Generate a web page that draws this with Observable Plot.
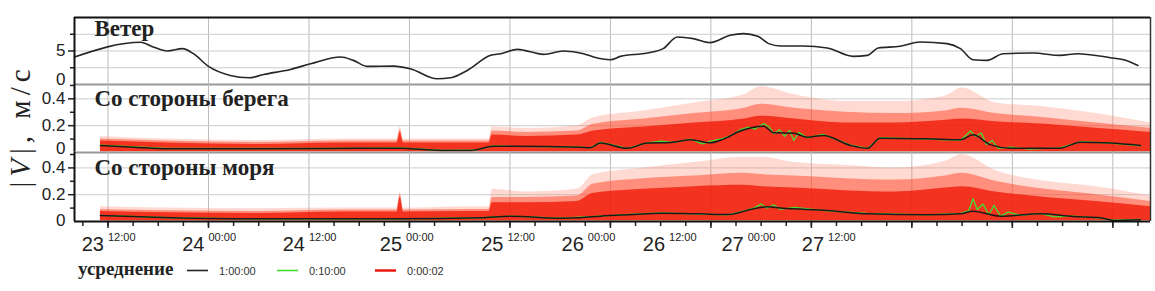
<!DOCTYPE html>
<html><head><meta charset="utf-8">
<script src="https://cdn.jsdelivr.net/npm/d3@7"></script>
<script src="https://cdn.jsdelivr.net/npm/@observablehq/plot@0.6"></script>
<style>
html,body{margin:0;padding:0;background:#fff;}
#chart{position:relative;width:1155px;height:291px;overflow:hidden;}
#chart > svg{position:absolute;left:0;display:block;overflow:visible;}
</style></head><body><div id="chart"></div>
<script>
// time axis: hours since 23 00:00
const timeDomain = [8, 136.5];
const majorTicks = [12, 24, 36, 48, 60, 72, 84, 96, 108, 120, 132];
const minorTicks = d3.range(9, 136, 3);
// tick labels as printed in the reference (hour where each label is printed)
const tickHours = [12, 24, 36, 47.6, 59.7, 69.3, 79, 88.4, 98];
const tickDays  = ["23", "24", "24", "25", "25", "26", "26", "27", "27"];
const tickTimes = ["12:00", "00:00", "12:00", "00:00", "12:00", "00:00", "12:00", "00:00", "12:00"];

// panel 1: wind speed, m/s
const windHours = [8.0, 15.9, 17.4, 19.1, 20.9, 22.2, 24.0, 26.6, 28.8, 30.6, 33.8, 36.2, 39.8, 41.3, 43.0, 46.1, 48.1, 51.3, 52.9, 54.9, 57.7, 58.9, 60.9, 64.0, 66.4, 68.8, 70.0, 72.0, 73.2, 76.4, 78.3, 80.0, 81.9, 83.9, 86.3, 87.9, 89.6, 90.9, 92.3, 95.0, 97.9, 101.0, 102.7, 104.0, 106.6, 109.0, 112.2, 113.8, 115.3, 117.0, 118.9, 122.5, 125.7, 127.8, 131.7, 133.3, 135.0];
const windSpeed = [4.1, 6.3, 5.6, 5.0, 5.35, 4.6, 2.7, 1.35, 1.0, 1.5, 2.25, 3.1, 4.1, 3.6, 2.7, 2.75, 2.35, 0.85, 1.0, 2.1, 4.35, 4.6, 5.25, 4.5, 5.0, 4.6, 4.1, 3.7, 4.2, 4.7, 5.35, 7.1, 6.85, 6.25, 7.35, 7.6, 7.2, 6.1, 5.75, 5.75, 5.45, 4.2, 4.35, 5.45, 5.7, 6.35, 6.1, 5.35, 3.7, 3.6, 4.6, 4.7, 4.35, 4.6, 4.0, 3.7, 2.85];

// 2-second samples: envelope of the cloud (dense core top, mid density top, sparse outer top)
const bandHours     = [11.1, 19, 30, 40, 46.5, 46.9, 47.3, 55, 57.5, 57.9, 62, 68, 70, 76, 82, 88, 90, 94, 100, 106, 112, 114, 118, 124, 130, 136.5];
const shoreCoreTop  = [0.085, 0.07, 0.06, 0.07, 0.07, 0.15, 0.07, 0.07, 0.07, 0.13, 0.12, 0.13, 0.16, 0.19, 0.22, 0.25, 0.27, 0.25, 0.22, 0.22, 0.24, 0.25, 0.23, 0.21, 0.18, 0.15];
const shoreMidTop   = [0.10, 0.085, 0.075, 0.085, 0.085, 0.17, 0.085, 0.085, 0.085, 0.16, 0.15, 0.16, 0.21, 0.25, 0.29, 0.33, 0.36, 0.33, 0.30, 0.29, 0.31, 0.33, 0.29, 0.26, 0.22, 0.18];
const shoreOuterTop = [0.12, 0.10, 0.09, 0.10, 0.10, 0.19, 0.10, 0.10, 0.10, 0.19, 0.18, 0.20, 0.26, 0.31, 0.37, 0.43, 0.49, 0.43, 0.38, 0.38, 0.42, 0.48, 0.37, 0.34, 0.29, 0.22];
const seaCoreTop    = [0.075, 0.065, 0.06, 0.07, 0.07, 0.18, 0.07, 0.075, 0.075, 0.14, 0.14, 0.15, 0.21, 0.24, 0.26, 0.27, 0.26, 0.25, 0.23, 0.22, 0.25, 0.26, 0.22, 0.18, 0.15, 0.11];
const seaMidTop     = [0.09, 0.08, 0.075, 0.085, 0.085, 0.20, 0.085, 0.09, 0.09, 0.18, 0.18, 0.19, 0.28, 0.32, 0.34, 0.36, 0.35, 0.34, 0.32, 0.31, 0.34, 0.36, 0.30, 0.24, 0.20, 0.15];
const seaOuterTop   = [0.11, 0.10, 0.095, 0.10, 0.10, 0.22, 0.10, 0.11, 0.11, 0.24, 0.22, 0.24, 0.35, 0.40, 0.44, 0.48, 0.48, 0.44, 0.42, 0.40, 0.45, 0.50, 0.38, 0.30, 0.26, 0.19];

// 1-hour averages
const shoreHourlyH = [11.1, 15.0, 19.1, 29.0, 38.6, 46.9, 51.7, 55.3, 56.1, 58.0, 60.4, 68.4, 69.6, 70.8, 74.0, 76.4, 79.5, 81.6, 83.9, 85.5, 87.5, 90.3, 91.5, 93.9, 95.5, 97.4, 100.7, 102.7, 104.2, 109.9, 113.8, 115.3, 117.4, 119.8, 125.7, 128.1, 131.7, 135.3];
const shoreHourly  = [0.052, 0.04, 0.028, 0.028, 0.03, 0.032, 0.015, 0.015, 0.022, 0.047, 0.047, 0.04, 0.035, 0.07, 0.032, 0.07, 0.077, 0.095, 0.072, 0.1, 0.16, 0.196, 0.147, 0.144, 0.114, 0.127, 0.052, 0.032, 0.107, 0.102, 0.095, 0.132, 0.057, 0.032, 0.032, 0.077, 0.07, 0.052];
const seaHourlyH = [11.1, 19.5, 29.0, 46.9, 56.5, 60.1, 66.0, 68.4, 70.8, 74.7, 78.0, 82.7, 86.0, 89.1, 90.7, 92.3, 97.9, 102.7, 109.9, 113.8, 115.3, 118.6, 123.3, 127.3, 130.5, 132.1, 135.3];
const seaHourly  = [0.045, 0.028, 0.02, 0.02, 0.028, 0.04, 0.025, 0.028, 0.04, 0.052, 0.062, 0.057, 0.052, 0.095, 0.11, 0.1, 0.082, 0.057, 0.05, 0.057, 0.077, 0.04, 0.057, 0.037, 0.028, 0.008, 0.013];

// 10-minute averages
const shoreTenMinH = [11.1, 19, 29, 39, 47, 52, 56, 58, 60.4, 68.4, 69.6, 70.8, 72, 74, 76.4, 78, 79.5, 81.6, 83, 84, 85.5, 86.5, 87.5, 88.5, 89.3, 90.3, 91, 91.5, 92.2, 92.8, 93.4, 93.9, 94.5, 95.5, 97.4, 100.7, 102.7, 104.2, 109.9, 113.8, 115, 115.6, 116.3, 116.9, 117.6, 118.3, 119.8, 122, 125.7, 128.1, 131.7, 135.3];
const shoreTenMin  = [0.055, 0.03, 0.03, 0.03, 0.035, 0.015, 0.02, 0.05, 0.045, 0.04, 0.035, 0.075, 0.06, 0.03, 0.072, 0.085, 0.075, 0.1, 0.065, 0.085, 0.105, 0.13, 0.17, 0.19, 0.175, 0.215, 0.19, 0.14, 0.17, 0.12, 0.165, 0.09, 0.15, 0.11, 0.135, 0.055, 0.03, 0.11, 0.1, 0.09, 0.16, 0.12, 0.145, 0.06, 0.09, 0.03, 0.04, 0.025, 0.035, 0.08, 0.07, 0.05];
const seaTenMinH = [11.1, 19.5, 29, 46.9, 56.5, 60.1, 66, 70.8, 74.7, 78, 82.7, 86, 88, 89.1, 90, 90.7, 91.5, 92.3, 94, 97.9, 102.7, 109.9, 113.8, 114.8, 115.3, 115.8, 116.5, 117.2, 117.8, 118.6, 119.5, 121, 123.3, 125, 127.3, 130.5, 132.1, 135.3];
const seaTenMin  = [0.045, 0.028, 0.02, 0.02, 0.028, 0.04, 0.025, 0.04, 0.055, 0.065, 0.055, 0.05, 0.08, 0.1, 0.13, 0.1, 0.125, 0.09, 0.105, 0.08, 0.06, 0.05, 0.06, 0.08, 0.17, 0.09, 0.13, 0.05, 0.12, 0.04, 0.07, 0.045, 0.06, 0.035, 0.04, 0.025, 0.01, 0.015];

const panelTitles = ["Ветер", "Со стороны берега", "Со стороны моря"];
const legendTitle = "усреднение";
const legendLabels = ["1:00:00", "0:10:00", "0:00:02"];
const legendColors = ["#222222", "#44dd33", "#e8180c"];
const yAxisLabel = ["|", "V", "|, м/с"];

// ---------- build tables ----------
const zip = (hs, vs) => hs.map((h, i) => ({h, v: vs[i]}));
const wind = zip(windHours, windSpeed);
const shoreBand = bandHours.map((h, i) => ({h, core: shoreCoreTop[i], mid: shoreMidTop[i], outer: shoreOuterTop[i]}));
const seaBand = bandHours.map((h, i) => ({h, core: seaCoreTop[i], mid: seaMidTop[i], outer: seaOuterTop[i]}));
const xTicks = tickHours.map((h, i) => ({h, day: tickDays[i], time: tickTimes[i]}));

const W = 1155, ML = 74, MR = 5;
const SANS = "Liberation Sans, Arial, sans-serif";
const SERIF = "Liberation Serif, Times New Roman, serif";
const style = {fontFamily: SANS, background: "transparent", overflow: "visible", color: "#222"};
const xOpt = {domain: timeDomain, axis: null};
const chart = document.getElementById("chart");

function place(svg, top) { svg.style.top = top + "px"; chart.appendChild(svg); }

function title(t, dy) {
  return Plot.text([t], {frameAnchor: "top-left", dx: 20, dy, textAnchor: "start", lineAnchor: "middle",
    fontFamily: SERIF, fontWeight: "bold", fontSize: 23, fill: "#222"});
}

// ---------- panel 1: wind ----------
const p1 = Plot.plot({
  width: W, height: 84, marginTop: 17, marginBottom: 0, marginLeft: ML, marginRight: MR, style,
  x: xOpt, y: {domain: [0, 10], axis: null},
  marks: [
    Plot.gridX({ticks: majorTicks, stroke: "#bbb", strokeOpacity: 1}),
    Plot.gridY({ticks: [2.5, 5, 7.5], stroke: "#ccc", strokeOpacity: 1}),
    Plot.line(wind, {x: "h", y: "v", stroke: "#262626", strokeWidth: 1.6, curve: "monotone-x"}),
    Plot.axisY({ticks: [5], tickSize: 6, fontSize: 17, tickPadding: 3, strokeWidth: 1.5, label: null}),
    Plot.axisY({ticks: [0], tickSize: 0, fontSize: 17, tickPadding: 9, dy: -5, label: null}),
    Plot.axisY({ticks: [2.5, 7.5], tickSize: 4, text: null, strokeWidth: 1.5, label: null}),
    Plot.ruleY([10], {stroke: "#111", strokeWidth: 2}),
    Plot.ruleY([0], {stroke: "#999", strokeWidth: 2}),
    Plot.ruleX([timeDomain[0]], {stroke: "#111", strokeWidth: 2}),
    Plot.ruleX([timeDomain[1]], {stroke: "#333", strokeWidth: 1.5}),
    title(panelTitles[0], 11)
  ]
});
place(p1, 0);

// ---------- panels 2 & 3 ----------
function vPanel(band, tenMin, hourly, yMax, height, marginBottom, titleText, titleDy, zeroDy, extra) {
  const cv = "monotone-x";
  return Plot.plot({
    width: W, height, marginTop: 0, marginBottom, marginLeft: ML, marginRight: MR, style,
    x: xOpt, y: {domain: [0, yMax], axis: null},
    marks: [
      Plot.gridX({ticks: majorTicks, stroke: "#bbb", strokeOpacity: 1}),
      Plot.gridY({ticks: [0.2, 0.4], stroke: "#ccc", strokeOpacity: 1}),
      Plot.areaY(band, {x: "h", y1: 0.004, y2: "outer", fill: "#ff7a5c", fillOpacity: 0.28, curve: cv}),
      Plot.areaY(band, {x: "h", y1: 0.005, y2: "mid", fill: "#ff4426", fillOpacity: 0.5, curve: cv}),
      Plot.areaY(band, {x: "h", y1: 0.006, y2: "core", fill: "#f01a08", fillOpacity: 0.8, curve: cv}),
      Plot.line(tenMin, {x: "h", y: "v", stroke: "#44dd33", strokeWidth: 1.3}),
      Plot.line(hourly, {x: "h", y: "v", stroke: "#1a1a1a", strokeWidth: 1.5, curve: cv}),
      Plot.axisY({ticks: [0.2, 0.4], tickSize: 6, fontSize: 17, tickPadding: 3, strokeWidth: 1.5, tickFormat: d => d.toFixed(1), label: null}),
      Plot.axisY({ticks: [0], tickSize: 0, fontSize: 17, tickPadding: 9, dy: zeroDy, tickFormat: () => "0", label: null}),
      Plot.axisY({ticks: [0.1, 0.3, 0.5], tickSize: 4, text: null, strokeWidth: 1.5, label: null}),
      Plot.ruleX([timeDomain[0]], {stroke: "#111", strokeWidth: 2}),
      Plot.ruleX([timeDomain[1]], {stroke: "#333", strokeWidth: 1.5}),
      title(titleText, titleDy),
      ...extra
    ]
  });
}

const p2 = vPanel(shoreBand, zip(shoreTenMinH, shoreTenMin), zip(shoreHourlyH, shoreHourly), 0.507, 68, 0, panelTitles[1], 14, -4,
  [Plot.ruleY([0], {stroke: "#999", strokeWidth: 2})]);
place(p2, 84);

const p3 = vPanel(seaBand, zip(seaTenMinH, seaTenMin), zip(seaHourlyH, seaHourly), 0.515, 104, 35, panelTitles[2], 15, -1, [
  Plot.axisX({ticks: minorTicks, tickSize: 5, text: null, strokeWidth: 1.5, anchor: "bottom", label: null}),
  Plot.axisX({ticks: majorTicks, tickSize: 7, text: null, strokeWidth: 1.5, anchor: "bottom", label: null}),
  Plot.ruleY([0], {stroke: "#111", strokeWidth: 2}),
  Plot.text(xTicks, {x: "h", text: "day", frameAnchor: "bottom", dy: 23, dx: -4, textAnchor: "end", lineAnchor: "middle", fontSize: 20, fontFamily: SANS, fill: "#222"}),
  Plot.text(xTicks, {x: "h", text: "time", frameAnchor: "bottom", dy: 16, dx: 0, textAnchor: "start", lineAnchor: "middle", fontSize: 11, fontFamily: SANS, fill: "#222"})
]);
place(p3, 152);

// ---------- legend ----------
const leg = d3.create("svg").attr("width", W).attr("height", 35);
leg.append("text").attr("x", 78).attr("y", 19).attr("font-family", SERIF).attr("font-weight", "bold")
  .attr("font-size", 19).attr("fill", "#222").text(legendTitle);
const legX = [187, 277, 375];
legendLabels.forEach((lab, i) => {
  leg.append("line").attr("x1", legX[i]).attr("x2", legX[i] + 21).attr("y1", 14.5).attr("y2", 14.5)
    .attr("stroke", legendColors[i]).attr("stroke-width", i === 2 ? 2.5 : 1.6);
  leg.append("text").attr("x", legX[i] + 32).attr("y", 18.5).attr("font-family", SANS)
    .attr("font-size", 11).attr("fill", "#333").text(lab);
});
place(leg.node(), 256);

// ---------- y-axis label ----------
const yl = d3.create("svg").attr("width", 45).attr("height", 291);
const t = yl.append("text").attr("transform", "translate(30,126) rotate(-90)").attr("text-anchor", "middle")
  .attr("font-family", SERIF).attr("font-size", 29).attr("fill", "#222").attr("letter-spacing", 5);
t.append("tspan").text(yAxisLabel[0]);
t.append("tspan").attr("font-style", "italic").text(yAxisLabel[1]);
t.append("tspan").text(yAxisLabel[2]);
place(yl.node(), 0);
</script></body></html>
